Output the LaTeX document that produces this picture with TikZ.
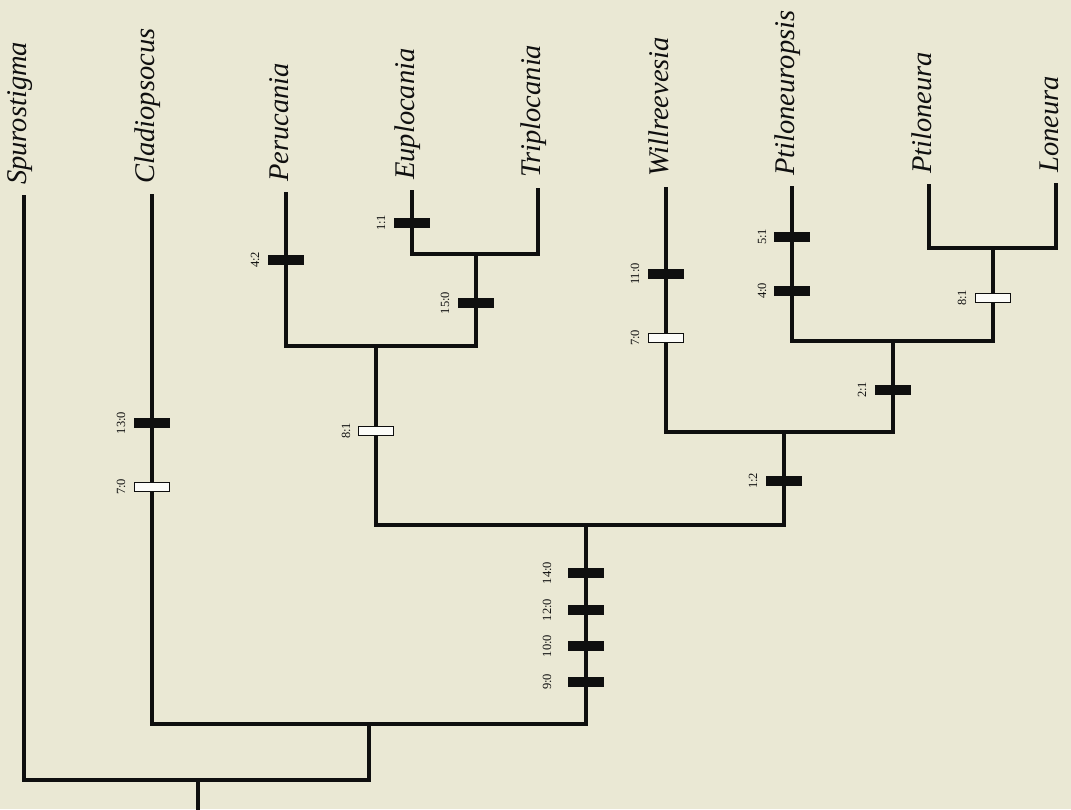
\documentclass[tikz,border=0pt]{standalone}
\usepackage{fontspec}
\setmainfont{Liberation Serif}
\definecolor{paper}{RGB}{234,232,212}
\definecolor{ink}{RGB}{15,15,15}
\begin{document}
\begin{tikzpicture}[x=1pt,y=-1pt,
  branch/.style={draw=ink,line width=3.4pt,line join=miter,line cap=rect},
  taxon/.style={rotate=90,anchor=base west,inner sep=0pt,font=\fontsize{28.5}{29}\selectfont\itshape,text=ink},
  blk/.style={rectangle,fill=ink,minimum width=36pt,minimum height=10.5pt,inner sep=0pt},
  opn/.style={rectangle,draw=ink,line width=1.1pt,fill=white!85!paper,minimum width=35pt,minimum height=9.5pt,inner sep=0pt},
  chr/.style={rotate=90,anchor=base,inner sep=0pt,font=\fontsize{12.5}{12.5}\selectfont,text=ink}]
\useasboundingbox[fill=paper] (0,0) rectangle (1071,809);
% leaf tips
\coordinate (Sp) at (24,197);
\coordinate (Cl) at (152,196);
\coordinate (Pe) at (286,194);
\coordinate (Eu) at (412,192);
\coordinate (Tr) at (538,190);
\coordinate (Wi) at (666,189);
\coordinate (Pn) at (792,188);
\coordinate (Pt) at (929,186);
\coordinate (Lo) at (1056,185);
% internal nodes
\coordinate (nET) at (476,254);
\coordinate (nPE) at (376,346);
\coordinate (nPL) at (993,248);
\coordinate (nPP) at (893,341);
\coordinate (nWi) at (784,432);
\coordinate (nIn) at (586,525);
\coordinate (nCl) at (369,724);
\coordinate (root) at (198,780);
\coordinate (base) at (198,809);
% taxon names
\node[taxon] (tSp) at ([shift={(2,-12)}]Sp) {Spurostigma};
\node[taxon] (tCl) at ([shift={(2,-12)}]Cl) {Cladiopsocus};
\node[taxon] (tPe) at ([shift={(2,-12)}]Pe) {Perucania};
\node[taxon] (tEu) at ([shift={(2,-12)}]Eu) {Euplocania};
\node[taxon] (tTr) at ([shift={(2,-12)}]Tr) {Triplocania};
\node[taxon] (tWi) at ([shift={(2,-12)}]Wi) {Willreevesia};
\node[taxon] (tPn) at ([shift={(2,-12)}]Pn) {Ptiloneuropsis};
\node[taxon] (tPt) at ([shift={(2,-12)}]Pt) {Ptiloneura};
\node[taxon] (tLo) at ([shift={(2,-12)}]Lo) {Loneura};
% branches
\draw[branch] (Eu) |- (nET) -| (Tr);
\draw[branch] (Pe) |- (nPE) -| (nET);
\draw[branch] (Pt) |- (nPL) -| (Lo);
\draw[branch] (Pn) |- (nPP) -| (nPL);
\draw[branch] (Wi) |- (nWi) -| (nPP);
\draw[branch] (nPE) |- (nIn) -| (nWi);
\draw[branch] (Cl) |- (nCl) -| (nIn);
\draw[branch] (Sp) |- (root) -| (nCl);
\draw[branch] (root) -- (base);
% character changes
\node[blk] (b1) at (152,423) {};
\node[chr] (l1) at (125,423) {13:0};
\node[opn] (b2) at (152,487) {};
\node[chr] (l2) at (125,487) {7:0};
\node[blk] (b3) at (286,260) {};
\node[chr] (l3) at (259,260) {4:2};
\node[blk] (b4) at (412,223) {};
\node[chr] (l4) at (385,223) {1:1};
\node[blk] (b5) at (476,303) {};
\node[chr] (l5) at (449,303) {15:0};
\node[opn] (b6) at (376,431) {};
\node[chr] (l6) at (350,431) {8:1};
\node[blk] (b7) at (586,573) {};
\node[chr] (l7) at (551,573) {14:0};
\node[blk] (b8) at (586,610) {};
\node[chr] (l8) at (551,610) {12:0};
\node[blk] (b9) at (586,646) {};
\node[chr] (l9) at (551,646) {10:0};
\node[blk] (b10) at (586,682) {};
\node[chr] (l10) at (551,682) {9:0};
\node[blk] (b11) at (666,274) {};
\node[chr] (l11) at (639,274) {11:0};
\node[opn] (b12) at (666,338) {};
\node[chr] (l12) at (639,338) {7:0};
\node[blk] (b13) at (784,481) {};
\node[chr] (l13) at (757,481) {1:2};
\node[blk] (b14) at (792,237) {};
\node[chr] (l14) at (766,237) {5:1};
\node[blk] (b15) at (792,291) {};
\node[chr] (l15) at (766,291) {4:0};
\node[blk] (b16) at (893,390) {};
\node[chr] (l16) at (866,390) {2:1};
\node[opn] (b17) at (993,298) {};
\node[chr] (l17) at (966,298) {8:1};
\end{tikzpicture}
\end{document}
